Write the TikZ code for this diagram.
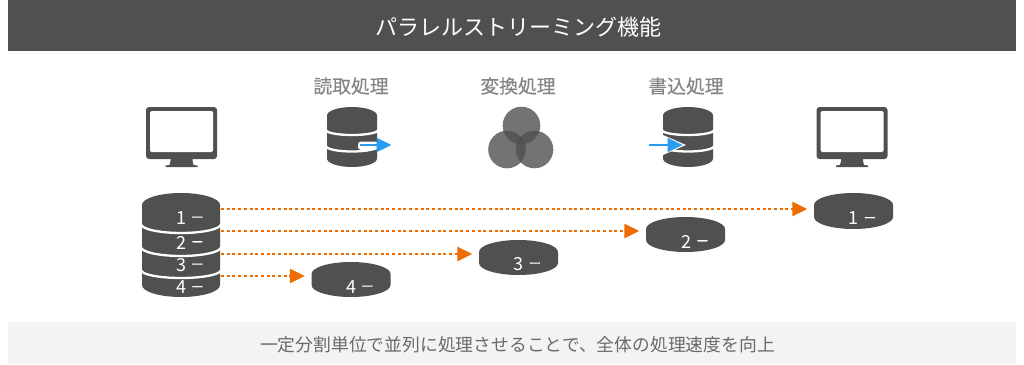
\documentclass[tikz,border=0pt]{standalone}
\usepackage{fontspec}
\setmainfont{Noto Sans CJK JP}
\newfontfamily\medfont[FakeBold=0.35]{Noto Sans CJK JP}
\newfontfamily\dashfont[FakeBold=0.6]{Noto Sans CJK JP}
\usetikzlibrary{arrows.meta}
\definecolor{dk}{HTML}{505050}
\definecolor{lbl}{HTML}{858585}
\definecolor{foot}{HTML}{F3F3F3}
\definecolor{foottx}{HTML}{6A6A6A}
\definecolor{org}{HTML}{EE6C00}
\definecolor{blu}{HTML}{2B9BF0}
\tikzset{
  titletext/.style={text=white,font=\fontsize{22}{24}\selectfont,inner sep=0pt},
  steplabel/.style={text=lbl,font=\medfont\fontsize{18.8}{20}\selectfont,inner sep=0pt},
  foottext/.style={text=foottx,font=\fontsize{17.8}{20}\selectfont,inner sep=0pt},
  disknum/.style={text=white,font=\fontsize{18}{18}\selectfont,inner sep=0pt},
  diskbox/.style={minimum width=78pt,minimum height=35pt,inner sep=0pt},
  flow/.style={org,line width=2.8pt,dash pattern=on 3pt off 2.7pt,-{Triangle[length=15pt,width=14pt,sep=0pt]},shorten >=7pt},
  gap/.style={white,line width=2.3pt},
  bluearrow/.style={blu,line width=2.2pt,-{Triangle[length=15pt,width=14pt]}}
}
\newcommand{\cylbody}[5]{%
  \fill[dk] (#1-#2,#3+#5) arc[start angle=180,end angle=0,x radius=#2pt,y radius=#5pt]
    -- (#1+#2,#4-#5) arc[start angle=0,end angle=-180,x radius=#2pt,y radius=#5pt] -- cycle;}
\newcommand{\cylgap}[4]{%
  \draw[gap] (#1-#2-1,#3) arc[start angle=180,end angle=360,x radius=#2pt+1pt,y radius=#4pt];}
\newcommand{\monitor}[1]{%
  \begin{scope}[shift={(#1,0)}]
    \fill[dk] (-11,158) -- (11,158) -- (11,161) -- (12,165) -- (16,165.5) -- (16,167) -- (-16,167) -- (-16,165.5) -- (-12,165) -- (-11,161) -- cycle;
    \fill[dk,rounded corners=3pt] (-35.5,107) rectangle (35.5,159);
    \fill[white,rounded corners=1.5pt] (-31.5,111) rectangle (31.5,152);
  \end{scope}}
\newcommand{\dnum}[1]{#1\hspace{5pt}{\dashfont\fontsize{12.5}{12}\selectfont\raisebox{2.5pt}{ー}}}
\begin{document}
\begin{tikzpicture}[x=1pt,y=-1pt]
\useasboundingbox (0,0) rectangle (1024,364);
\fill[white] (0,0) rectangle (1024,364);
\fill[dk] (8,0) rectangle (1016,51);
\fill[foot] (8,322) rectangle (1016,364);
\node[titletext] (title) at (518,27.5) {パラレルストリーミング機能};
\node[foottext] (foottxt) at (517.5,344.5) {一定分割単位で並列に処理させることで、全体の処理速度を向上};
\node[steplabel] (lread) at (351,86) {読取処理};
\node[steplabel] (lconv) at (518,86) {変換処理};
\node[steplabel] (lwrite) at (686,86) {書込処理};
\monitor{181.5}
\monitor{852}
\cylbody{352}{25}{107}{167}{8.5}
\cylgap{352}{25}{130}{5}
\cylgap{352}{25}{146}{5.5}
\fill[white,rounded corners=3pt] (358,141.5) rectangle (378,150);
\coordinate (ra) at (360,145);
\coordinate (rb) at (391.5,145);
\draw[bluearrow] (ra) -- (rb);
\fill[dk,opacity=.8] (521.5,125.5) circle[radius=18.8pt];
\fill[dk,opacity=.8] (507,149.5) circle[radius=18.8pt];
\fill[dk,opacity=.8] (534.5,149.5) circle[radius=18.8pt];
\cylbody{688}{25}{107}{167}{8.5}
\cylgap{688}{25}{130}{5}
\cylgap{688}{25}{146}{5.5}
\coordinate (wa) at (649,145);
\coordinate (wb) at (682.5,145);
\fill[white] (663,135) -- (686,145) -- (663,155) -- cycle;
\draw[bluearrow] (wa) -- (wb);
\cylbody{181}{39}{193}{297}{12}
\cylgap{181}{39}{224}{9}
\cylgap{181}{39}{247}{9}
\cylgap{181}{39}{270}{8}
\node[disknum] (n1) at (190,218) {\dnum{1}};
\node[disknum] (n2) at (190,242.5) {\dnum{2}};
\node[disknum] (n3) at (190,265) {\dnum{3}};
\node[disknum] (n4) at (190,287.5) {\dnum{4}};
\coordinate (s1) at (221,209);
\coordinate (s2) at (221,231);
\coordinate (s3) at (221,254);
\coordinate (s4) at (221,276);
\cylbody{853.5}{39.5}{193}{229}{12}
\cylbody{685.5}{39.5}{217}{252}{12}
\cylbody{518.5}{39.5}{240}{275}{12}
\cylbody{351}{39.5}{262}{297}{12}
\node[diskbox] (d1) at (853.5,211) {};
\node[diskbox] (d2) at (685.5,234.5) {};
\node[diskbox] (d3) at (518.5,257.5) {};
\node[diskbox] (d4) at (351,279.5) {};
\node[disknum] (m1) at (862.5,218.5) {\dnum{1}};
\node[disknum] (m2) at (695,241.5) {\dnum{2}};
\node[disknum] (m3) at (527.5,264) {\dnum{3}};
\node[disknum] (m4) at (360,287) {\dnum{4}};
\draw[flow] (s1) -- (d1.west |- s1);
\draw[flow] (s2) -- (d2.west |- s2);
\draw[flow] (s3) -- (d3.west |- s3);
\draw[flow] (s4) -- (d4.west |- s4);
\end{tikzpicture}
\end{document}
